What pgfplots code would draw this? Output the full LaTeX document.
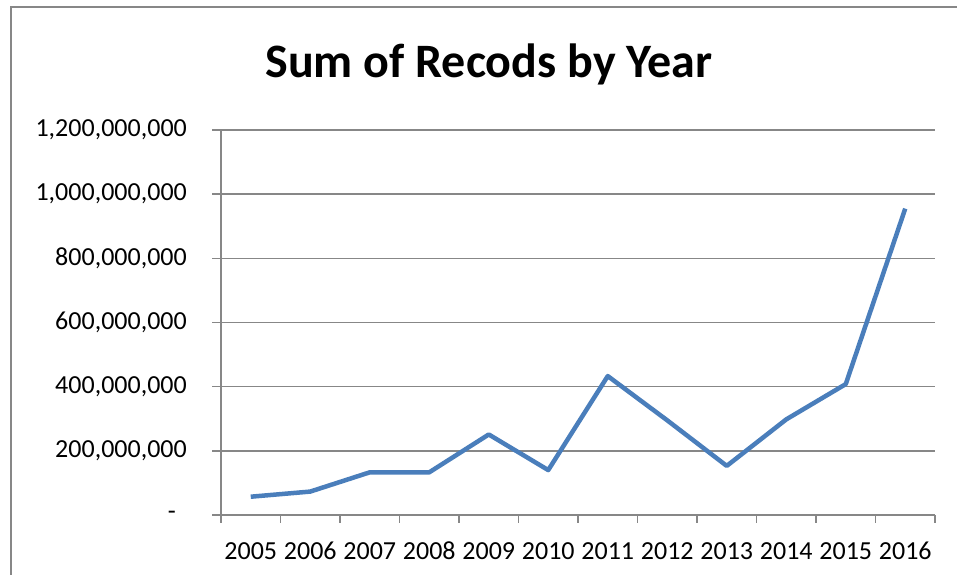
\documentclass[border=0pt]{standalone}
\usepackage{pgfplots}
\pgfplotsset{compat=1.18}
\usepackage{fontspec}
\setmainfont{Carlito}
\definecolor{lineblue}{HTML}{4A7EBB}
\definecolor{gridgray}{HTML}{878787}
\begin{document}
\begin{tikzpicture}[x=1pt,y=1pt]
\useasboundingbox (0,0) rectangle (958,575);
\draw[gridgray, line width=1.6pt] (11,0) -- (11,568) -- (957,568);
\node[font=\fontsize{48}{56}\selectfont\bfseries, anchor=base] at (489,497) {Sum of Recods by Year};
\begin{axis}[
  at={(221pt,60pt)}, anchor=south west,
  scale only axis, width=714pt, height=385pt,
  xmin=-0.5, xmax=11.5, ymin=0, ymax=1200000000,
  scaled y ticks=false,
  xtick={0,1,2,3,4,5,6,7,8,9,10,11},
  xticklabels={2005,2006,2007,2008,2009,2010,2011,2012,2013,2014,2015,2016},
  minor xtick={-0.5,0.5,1.5,2.5,3.5,4.5,5.5,6.5,7.5,8.5,9.5,10.5,11.5},
  major x tick style={draw=none},
  ytick={0,200000000,400000000,600000000,800000000,1000000000,1200000000},
  yticklabels={{-\rule{11pt}{0pt}},{200,000,000},{400,000,000},{600,000,000},{800,000,000},{1,000,000,000},{1,200,000,000}},
  ymajorgrids,
  grid style={gridgray, line width=1.6pt},
  axis x line*=bottom, axis y line*=left,
  axis line style={gridgray, line width=1.6pt, -},
  tick style={gridgray, line width=1.6pt},
  tick align=outside,
  major tick length=9pt, minor tick length=8pt,
  /pgf/number format/assume math mode=true,
  ticklabel style={font=\fontsize{26}{30}\selectfont, text=black},
  yticklabel style={inner sep=0pt, xshift=-25pt},
  xticklabel style={inner sep=0pt, yshift=-18pt},
  clip=false,
]
\addplot[lineblue, line width=4.5pt, line join=round] coordinates {
(0,57000000) (1,73000000) (2,133000000) (3,133000000) (4,251000000) (5,140000000)
(6,433000000) (7,295000000) (8,153000000) (9,298000000) (10,408000000) (11,955000000)
};
\end{axis}
\end{tikzpicture}
\end{document}
